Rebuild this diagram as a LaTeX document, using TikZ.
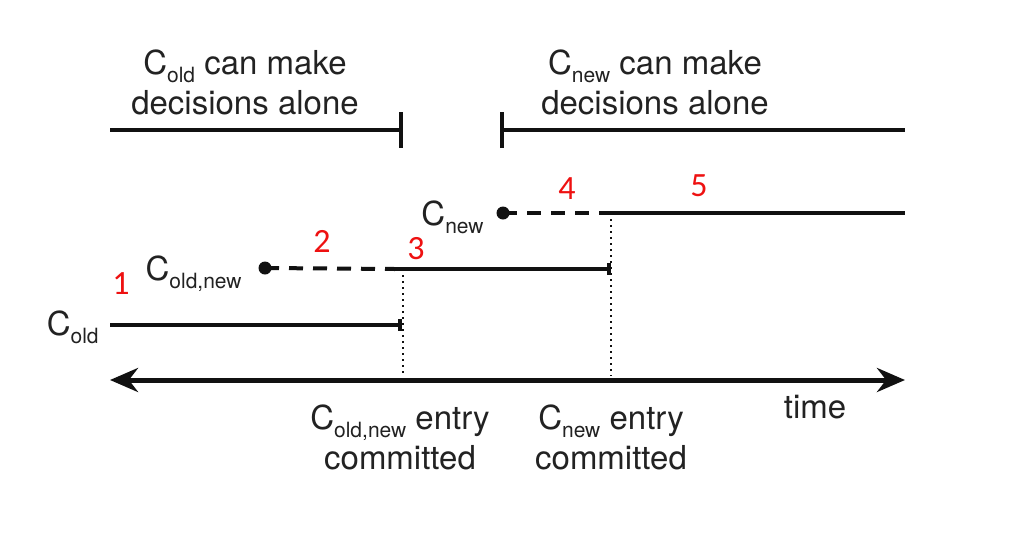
\documentclass[tikz,border=0pt]{standalone}
\usepackage{fontspec}
\setmainfont{TeX Gyre Heros}
\newfontfamily\numfont{Carlito}
\usetikzlibrary{positioning, arrows.meta}
\definecolor{clrline}{HTML}{111111}
\definecolor{clrtext}{HTML}{222222}
\definecolor{clrstep}{HTML}{EE1111}
\newcommand{\cfg}[1]{C\raisebox{-0.5ex}{\fontsize{10.5}{10.5}\selectfont #1}}

\begin{document}
\begin{tikzpicture}[
    x=0.5pt, y=-0.5pt,
    every node/.style={font=\fontsize{16.5}{20}\selectfont, text=clrtext, inner sep=0pt},
    phase/.style={line width=2pt, color=clrline},
    pending/.style={phase, dash pattern=on 7pt off 5pt},
    marker/.style={line width=1.2pt, color=clrline, dash pattern=on 1.2pt off 1.8pt},
    dot/.style={circle, fill=clrline, minimum size=6.5pt, inner sep=0pt},
    axis/.style={{Stealth[length=14pt,width=12pt]}-{Stealth[length=14pt,width=12pt]}, line width=2.5pt, color=clrline},
    stepnum/.style={font=\numfont\fontsize{17}{17}\selectfont, text=clrstep},
]
\useasboundingbox (0,0) rectangle (1022,536);
% who can decide alone
\node[align=center] (txt_old) at (245,82) {\cfg{old} can make\\decisions alone};
\node[align=center] (txt_new) at (655,82) {\cfg{new} can make\\decisions alone};
\coordinate (alone_old_s) at (110,130);
\coordinate (alone_old_e) at (403,130);
\coordinate (alone_new_s) at (500,130);
\coordinate (alone_new_e) at (905,130);
\draw[phase, -{Bar[width=18pt]}] (alone_old_s) -- (alone_old_e);
\draw[phase, {Bar[width=18pt]}-] (alone_new_s) -- (alone_new_e);
% configurations
\node[anchor=base east] (lbl_old) at (99,335) {\cfg{old}};
\node[anchor=base east] (lbl_oldnew) at (242,280) {\cfg{old,new}};
\node[anchor=base east] (lbl_new) at (484,225) {\cfg{new}};
\node[dot] (dot_oldnew) at (265,268) {};
\node[dot] (dot_new) at (503,213) {};
\coordinate (old_s) at (110,325);
\coordinate (old_e) at (402,325);
\coordinate (oldnew_c) at (395,269);
\coordinate (oldnew_e) at (611,269);
\coordinate (new_c) at (611,213);
\coordinate (new_e) at (905,213);
\draw[phase, -{Bar[width=6pt]}] (old_s) -- (old_e);
\draw[pending] (dot_oldnew.center) -- (oldnew_c);
\draw[phase, -{Bar[width=6pt]}] (oldnew_c) -- (oldnew_e);
\draw[pending] (dot_new.center) -- (new_c);
\draw[phase] (new_c) -- (new_e);
% time axis
\coordinate (axis_l) at (110,380);
\coordinate (axis_r) at (905,380);
\coordinate (commit_1) at (403,376);
\coordinate (commit_2) at (611,376);
\draw[marker] (403,269) -- (commit_1);
\draw[marker] (new_c) -- (commit_2);
\draw[axis] (axis_l) -- (axis_r);
\node (lbl_time) at (815,407) {time};
\node[align=center] (lbl_commit_1) at (400,437) {\cfg{old,new} entry\\committed};
\node[align=center] (lbl_commit_2) at (611,437) {\cfg{new} entry\\committed};
% step numbers
\node[stepnum] (s_1) at (121,284) {1};
\node[stepnum] (s_2) at (322,241) {2};
\node[stepnum] (s_3) at (416,249) {3};
\node[stepnum] (s_4) at (567,189) {4};
\node[stepnum] (s_5) at (699,186) {5};
\end{tikzpicture}
\end{document}
